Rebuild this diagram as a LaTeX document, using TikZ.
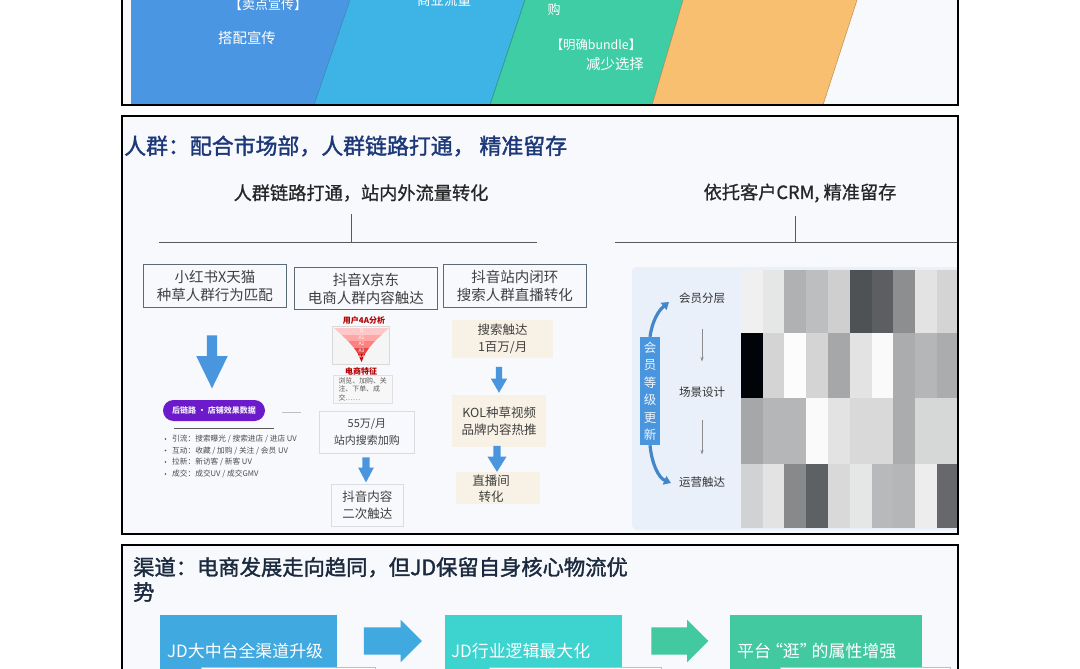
\documentclass[tikz,border=0pt]{standalone}
\usepackage{fontspec}
\setmainfont{Noto Sans CJK SC}
\newfontfamily\titlefont[FakeBold=1.6]{Noto Sans CJK SC}
\newfontfamily\subfont[FakeBold=0.9]{Noto Sans CJK SC}
\usepackage{xcolor}
\usetikzlibrary{calc,shapes.arrows,arrows.meta}
\definecolor{panelbg}{HTML}{F7F9FD}
\definecolor{bandblue}{HTML}{4A96E2}
\definecolor{bandsky}{HTML}{3DB3E6}
\definecolor{bandgreen}{HTML}{3FCDA5}
\definecolor{bandorange}{HTML}{F8BF70}
\definecolor{titlenavy}{HTML}{1C3878}
\definecolor{titledark}{HTML}{1B2A3E}
\definecolor{headborder}{HTML}{5A6B78}
\definecolor{lightborder}{HTML}{D8DDE3}
\definecolor{creamfill}{HTML}{F8F1E6}
\definecolor{arrowblue}{HTML}{4A96DE}
\definecolor{pillpurple}{HTML}{6B1BC9}
\definecolor{sidebg}{HTML}{E9F0FA}
\definecolor{chanblue}{HTML}{3FA9E0}
\definecolor{chancyan}{HTML}{3DD3CF}
\definecolor{changreen}{HTML}{43C9A0}
\definecolor{cellink}{HTML}{000408}
\begin{document}
\begin{tikzpicture}[
    x=1pt,y=-1pt,
    panel/.style={draw=black,line width=1.3pt},
    bandtext/.style={text=white,font=\fontsize{14.4}{16}\selectfont,inner sep=0pt},
    bigtitle/.style={anchor=west,inner sep=0pt,align=left,font=\titlefont\fontsize{21.9}{25}\selectfont},
    subtitle/.style={inner sep=0pt,text=black!85,font=\subfont\fontsize{18.2}{21}\selectfont},
    teeline/.style={draw=black!65,line width=0.8pt},
    headbox/.style={draw=headborder,line width=0.9pt,align=center,text=black!75,anchor=north west,inner sep=0pt,font=\fontsize{14.5}{18}\selectfont},
    plainbox/.style={draw=lightborder,line width=0.9pt,align=center,text=black!75,anchor=north west,inner sep=0pt,font=\fontsize{12.5}{17}\selectfont},
    creambox/.style={fill=creamfill,align=center,text=black!75,anchor=north west,inner sep=0pt,font=\fontsize{12.5}{17}\selectfont},
    blockarrow/.style={single arrow,inner xsep=0pt,draw=none,fill=arrowblue},
    gridlabel/.style={inner sep=0pt,text=black!80,font=\fontsize{11.5}{14}\selectfont},
    thinarrow/.style={draw=black!45,line width=0.6pt,-{Stealth[length=4.5pt,width=3pt]}},
    sidecurve/.style={draw=arrowblue!90!black,line width=3.2pt,-{Triangle[length=7pt,width=9pt]}},
    chanbox/.style={anchor=north west,inner sep=0pt},
    chantext/.style={anchor=west,inner sep=0pt,text=white,font=\fontsize{16.9}{20}\selectfont},
    chanlow/.style={anchor=north west,draw=black!25,fill=white,line width=0.7pt,inner sep=0pt}
]
    \path[use as bounding box,clip] (0,0) rectangle (1080,669);
    \fill[white] (0,0) rectangle (1080,669);
    \fill[panelbg] (122,-3) rectangle (958,105);
    \fill[panelbg] (122,116) rectangle (958,534);
    \fill[panelbg] (122,545) rectangle (958,675);

    % top bands
    \fill[bandblue] (131,-3) -- (351,-3) -- (314,105) -- (131,105) -- cycle;
    \filldraw[fill=bandsky,draw=bandsky!75!black,line width=0.5pt] (351,-3) -- (526,-3) -- (490,105) -- (314,105) -- cycle;
    \filldraw[fill=bandgreen,draw=bandgreen!75!black,line width=0.5pt] (526,-3) -- (684,-3) -- (652,105) -- (490,105) -- cycle;
    \filldraw[fill=bandorange,draw=bandorange!75!black,line width=0.5pt] (684,-3) -- (858,-3) -- (823,105) -- (652,105) -- cycle;
    \node[bandtext,font=\fontsize{13}{15}\selectfont] (sellpoint) at (268,5) {【卖点宣传】};
    \node[bandtext] (matchpromo) at (247,38) {搭配宣传};
    \node[bandtext,font=\fontsize{13.5}{15}\selectfont] (bizflow) at (444,0) {商业流量};
    \node[bandtext,font=\fontsize{13}{15}\selectfont] (buyword) at (554,10) {购};
    \node[bandtext,font=\fontsize{12.4}{14}\selectfont] (bundle) at (596,45) {【明确bundle】};
    \node[bandtext] (lesschoice) at (615,64) {减少选择};

    % middle panel heads
    \node[bigtitle,text=titlenavy] (crowdtitle) at (124,146) {人群：配合市场部，人群链路打通， 精准留存};
    \node[subtitle] (linktitle) at (361,193) {人群链路打通，站内外流量转化};
    \node[subtitle] (crmtitle) at (800,193) {依托客户CRM, 精准留存};
    \coordinate (teeL) at (351,214);
    \coordinate (teeLb) at (351,242);
    \coordinate (teeR) at (795,216);
    \coordinate (teeRb) at (795,242);
    \draw[teeline] (159,242) -- (537,242);
    \draw[teeline] (teeL) -- (teeLb);
    \draw[teeline] (615,242) -- (958,242);
    \draw[teeline] (teeR) -- (teeRb);

    \node[headbox,minimum width=143pt,minimum height=43pt] (xhs) at (143,264) {小红书X天猫\\种草人群行为匹配};
    \node[headbox,minimum width=143pt,minimum height=42pt] (dyjd) at (294,267) {抖音X京东\\电商人群内容触达};
    \node[headbox,minimum width=143pt,minimum height=43pt] (dyloop) at (443,264) {抖音站内闭环\\搜索人群直播转化};

    % left column
    \node[blockarrow,rotate=-90,inner ysep=5pt,minimum height=53pt,single arrow head extend=10.5pt,single arrow tip angle=52] (xhsarrow) at (212,356.5) {};
    \node[fill=pillpurple,rounded corners=10.5pt,minimum width=102pt,minimum height=21pt,inner sep=0pt,text=white!90!pillpurple,font=\bfseries\fontsize{8}{10}\selectfont] (backlink) at (214,410.5) {后链路 · 店铺效果数据};
    \coordinate (dashA) at (282,412);
    \coordinate (dashB) at (301,412);
    \coordinate (ruleA) at (174,428);
    \coordinate (ruleB) at (274,428);
    \draw[draw=black!25,line width=0.7pt] (dashA) -- (dashB);
    \draw[draw=black!65,line width=0.7pt] (ruleA) -- (ruleB);
    \foreach \yy/\txt in {439/{引流：搜索曝光 / 搜索进店 / 进店 UV},450.5/{互动：收藏 / 加购 / 关注 / 会员 UV},462/{拉新：新访客 / 新客 UV},474/{成交：成交UV / 成交GMV}}{
        \fill[black!70] (165.5,\yy) circle (0.9);
        \node[anchor=west,inner sep=0pt,text=black!70,font=\fontsize{7.7}{9}\selectfont] (item\yy) at (172,\yy) {\txt};
    }

    % funnel
    \node[inner sep=0pt,text=red!70!black,font=\bfseries\fontsize{8}{9}\selectfont] (funneltitle) at (364,320.5) {用户4A分析};
    \fill[black!4] (332,326) rectangle (389,364);
    \draw[black!15,line width=0.4pt] (332,326) rectangle (389,364);
    \fill[red!22!white] (334,328) -- (389,328) -- (381.5,335) -- (341.5,335) -- cycle;
    \fill[red!35!white] (341.5,335) -- (381.5,335) -- (375,341) -- (348,341) -- cycle;
    \fill[red!50!white] (348,341) -- (375,341) -- (369,348) -- (354,348) -- cycle;
    \fill[red!70!white!90!black] (354,348) -- (369,348) -- (365,354) -- (358,354) -- cycle;
    \fill[red!80!black] (358,354) -- (365,354) -- (361.5,362) -- cycle;
    \foreach \yy/\lab in {331/O,337.5/A1,344/A2,350.5/A3,357/A4}{
        \node[inner sep=0pt,text=white,font=\fontsize{5}{6}\selectfont] (lab\lab) at (361.5,\yy) {\lab};
    }
    \node[inner sep=0pt,text=red!70!black,font=\bfseries\fontsize{8}{9}\selectfont] (ectitle) at (361,371) {电商特征};
    \node[draw=black!12,fill=black!3,anchor=north west,inner sep=1.5pt,minimum width=59pt,minimum height=28pt,align=left,text=black!65,font=\fontsize{6.9}{8.6}\selectfont] (ectext) at (333,375) {浏览、加购、关\\注、下单、成\\交……};

    \node[plainbox,minimum width=95pt,minimum height=42pt,font=\fontsize{11}{17}\selectfont] (search55) at (319,411) {55万/月\\站内搜索加购};
    \node[plainbox,minimum width=72pt,minimum height=42pt] (secondtouch) at (331,484) {抖音内容\\二次触达};
    \node[blockarrow,rotate=-90,inner ysep=3.4pt,minimum height=25pt,single arrow head extend=4.2pt,single arrow tip angle=56] (arrowdy) at (366,466.5) {};

    % right column
    \node[creambox,minimum width=101pt,minimum height=38pt] (touch) at (452,320) {搜索触达\\1百万/月};
    \node[creambox,minimum width=94pt,minimum height=52pt] (kol) at (452,395) {KOL种草视频\\品牌内容热推};
    \node[creambox,minimum width=84pt,minimum height=32pt] (live) at (456,472) {};
    \node[inner sep=0pt,align=center,text=black!75,font=\fontsize{12.5}{16}\selectfont] (livetext) at (491,489) {直播间\\转化};
    \node[blockarrow,rotate=-90,inner ysep=3pt,minimum height=26pt,single arrow head extend=5pt,single arrow tip angle=60] (arrowtouch) at (499,377) {};
    \node[blockarrow,rotate=-90,inner ysep=3.4pt,minimum height=26pt,single arrow head extend=6pt,single arrow tip angle=64] (arrowkol) at (497,456) {};

    % member grid
    \fill[sidebg,rounded corners=5pt] (632,267) rectangle (972,530);
    \foreach \ytop/\ybot/\vals in {
        270/332.7/{6,10,31,26,19,69,64,45,11,17},
        332.7/398/{100,17,1,17,35,11,2,33,29,33},
        398/463.7/{35,29,29,2,11,15,15,33,16,16},
        463.7/528/{18,11,47,63,15,10,28,29,7,60}}{
        \foreach \lev [count=\i from 0] in \vals {
            \fill[cellink!\lev] (740.7+21.8*\i,\ytop) rectangle (740.7+21.8*\i+21.8,\ybot);
        }
    }
    \fill[white] (958.7,260) rectangle (980,534);
    \node[gridlabel] (tier) at (702,298) {会员分层};
    \node[gridlabel] (scene) at (702,392) {场景设计};
    \node[gridlabel] (ops) at (702,482) {运营触达};
    \draw[thinarrow,shorten <=25pt,shorten >=25pt] (tier) -- (scene);
    \draw[thinarrow,shorten <=23pt,shorten >=22pt] (scene) -- (ops);
    \node[fill=arrowblue,minimum width=20pt,minimum height=108pt,inner sep=0pt,align=center,text=white!90!arrowblue,font=\fontsize{12.5}{17.5}\selectfont] (update) at (650,391) {会\\员\\等\\级\\更\\新};
    \coordinate (tierin) at (669,302);
    \coordinate (opsin) at (671,483);
    \draw[sidecurve] (update.north) .. controls (652,322) and (658,311) .. (tierin);
    \draw[sidecurve] (update.south) .. controls (652,465) and (659,478) .. (opsin);

    % channel panel
    \node[bigtitle,text=titledark,font=\titlefont\fontsize{21.3}{25}\selectfont] (chantitle) at (133,579.5) {渠道：电商发展走向趋同，但JD保留自身核心物流优\\势};
    \node[chanbox,fill=chanblue,minimum width=177pt,minimum height=60pt] (chanA) at (160,615) {};
    \node[chanbox,fill=chancyan,minimum width=177pt,minimum height=60pt] (chanB) at (445,615) {};
    \node[chanbox,fill=changreen,minimum width=192pt,minimum height=60pt] (chanC) at (730,615) {};
    \node[blockarrow,fill=chanblue,inner ysep=13.5pt,minimum height=58pt,single arrow head extend=7.5pt,single arrow tip angle=90] (arrowAB) at (386,641) {};
    \node[blockarrow,fill=changreen,inner ysep=13.5pt,minimum height=57pt,single arrow head extend=7.5pt,single arrow tip angle=90] (arrowBC) at (673,641) {};
    \node[chanlow,minimum width=174pt,minimum height=20pt] (lowA) at (201,667) {};
    \node[chanlow,minimum width=172pt,minimum height=20pt] (lowB) at (489,667) {};
    \node[chanlow,minimum width=170pt,minimum height=20pt] (lowC) at (780,667) {};
    \node[chantext] (chanAtext) at (167,651) {JD大中台全渠道升级};
    \node[chantext] (chanBtext) at (451,651) {JD行业逻辑最大化};
    \node[chantext] (chanCtext) at (737,651) {平台\kern-5pt“逛”\kern-5pt的属性增强};

    % frames on top
    \draw[panel] (122,-3) rectangle (958,105);
    \draw[panel] (122,116) rectangle (958,534);
    \draw[panel] (122,545) rectangle (958,675);
\end{tikzpicture}
\end{document}
